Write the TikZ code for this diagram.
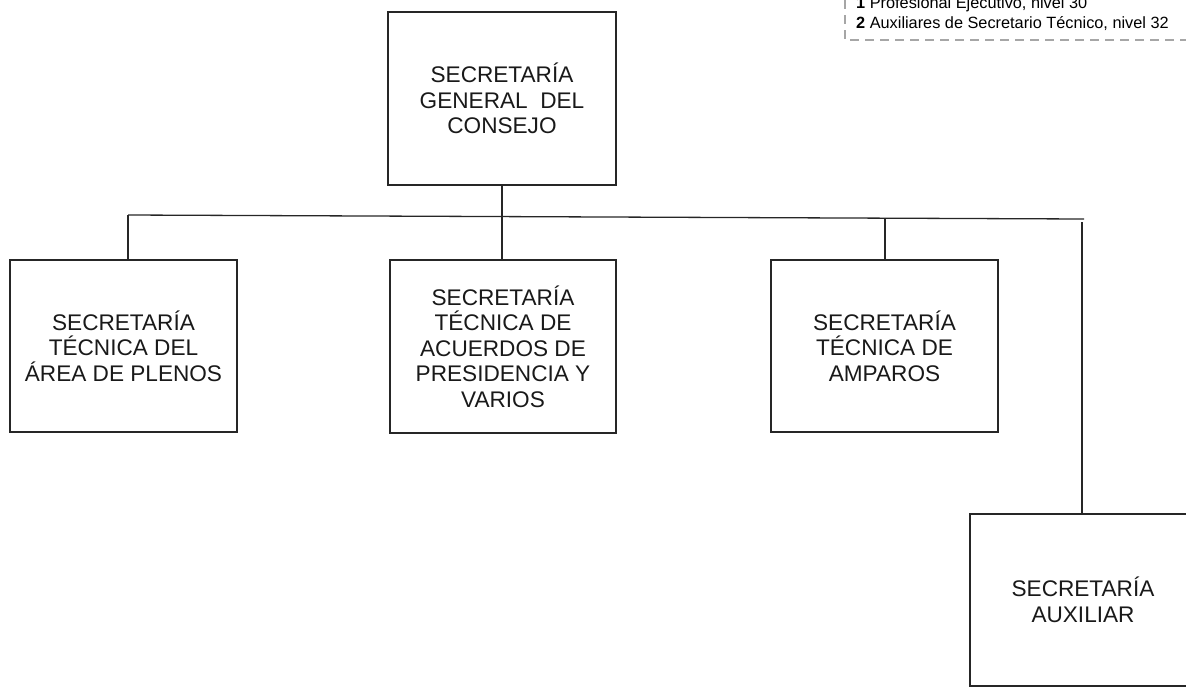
\documentclass[tikz,border=0pt]{standalone}
\usepackage{fontspec}
\setmainfont{Liberation Sans}
\begin{document}
\begin{tikzpicture}[x=1pt,y=-1pt,
  box/.style={draw=black!85, line width=1.3pt, rectangle, align=center, inner sep=0pt,
    font=\fontsize{22.6}{25.5}\selectfont, text=black!90},
  ln/.style={draw=black!85, line width=1.3pt},
  legtxt/.style={anchor=base west, inner sep=0pt, font=\fontsize{16.3}{19}\selectfont, text=black},
  legbox/.style={draw=black!35, line width=1.4pt, dash pattern=on 9pt off 6pt}]
\path[use as bounding box] (0,0) rectangle (1186,686);
\clip (0,0) rectangle (1186,686);
% boxes
\node[box, minimum width=228pt, minimum height=173pt] (top) at (502,98.5) {SECRETARÍA\\GENERAL\ \ DEL\\CONSEJO};
\node[box, minimum width=227pt, minimum height=172pt] (plenos) at (123.5,346) {SECRETARÍA\\TÉCNICA DEL\\ÁREA DE PLENOS};
\node[box, minimum width=226pt, minimum height=173pt] (acuerdos) at (503,346.5) {SECRETARÍA\\TÉCNICA DE\\ACUERDOS DE\\PRESIDENCIA Y\\VARIOS};
\node[box, minimum width=227pt, minimum height=172pt] (amparos) at (884.5,346) {SECRETARÍA\\TÉCNICA DE\\AMPAROS};
\node[box, minimum width=226pt, minimum height=172pt] (aux) at (1083,600) {SECRETARÍA\\AUXILIAR};
% bus
\coordinate (busL) at (128,215);
\coordinate (busR) at (1084,219);
\coordinate (busA) at (885,218.2);
\coordinate (busD) at (1082,222);
\draw[ln] (busL) -- (busR);
\draw[ln] (top.south) -- (top.south |- acuerdos.north);
\draw[ln] (busL) -- (busL |- plenos.north);
\draw[ln] (busA) -- (busA |- amparos.north);
\draw[ln] (busD) -- (busD |- aux.north);
% legend
\node[legtxt] (l1) at (856,8.5) {\textbf{1} Profesional Ejecutivo, nivel 30};
\node[legtxt] (l2) at (856,28) {\textbf{2} Auxiliares de Secretario Técnico, nivel 32};
\coordinate (lgA) at (845,0);
\coordinate (lgB) at (845,40);
\coordinate (lgC) at (1186,40);
\draw[legbox] (lgA) -- (lgB) -- (lgC);
\end{tikzpicture}
\end{document}
